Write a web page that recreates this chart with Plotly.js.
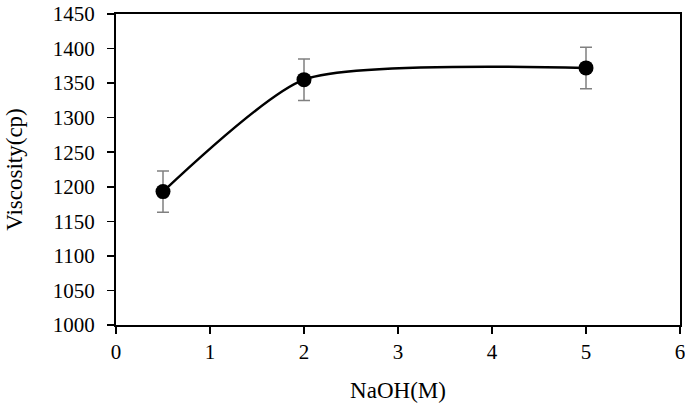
<!DOCTYPE html>
<html>
<head>
<meta charset="utf-8">
<script src="https://cdn.plot.ly/plotly-3.0.1.min.js"></script>
<style>html,body{margin:0;padding:0;background:#fff}#chart{width:685px;height:403px}</style>
</head>
<body>
<div id="chart"></div>
<script>
const naoh = [0.5, 2, 5];
const viscosity = [1193, 1355, 1372];
const errors = [30, 30, 30];
const xTicks = [0, 1, 2, 3, 4, 5, 6];
const yTicks = [1000, 1050, 1100, 1150, 1200, 1250, 1300, 1350, 1400, 1450];

const family = '"Liberation Serif", "Times New Roman", serif';
const tickFont = {family: family, color: '#000', size: 21};
const titleFont = {family: family, color: '#000', size: 23};

const trace = {
  x: naoh, y: viscosity,
  type: 'scatter', mode: 'lines+markers',
  line: {shape: 'spline', smoothing: 0.6, color: '#000', width: 2.5},
  marker: {size: 15, color: '#000'},
  error_y: {type: 'data', array: errors, visible: true, color: '#808080', thickness: 1.5, width: 6},
  showlegend: false
};

const layout = {
  width: 685, height: 403,
  margin: {l: 116, r: 5, t: 14, b: 78},
  paper_bgcolor: '#fff', plot_bgcolor: '#fff',
  font: tickFont,
  xaxis: {
    range: [0, 6], tickvals: xTicks, ticktext: xTicks.map(String),
    showgrid: false, zeroline: false, automargin: false,
    showline: true, linecolor: '#000', linewidth: 2, mirror: true,
    ticks: 'outside', ticklen: 7, tickwidth: 1.5, tickcolor: '#000',
    tickfont: tickFont, ticklabeloverflow: 'allow',
    title: {text: 'NaOH(M)', font: titleFont, standoff: 19}
  },
  yaxis: {
    range: [1000, 1450], tickvals: yTicks, ticktext: yTicks.map(String),
    showgrid: false, zeroline: false, automargin: false,
    showline: true, linecolor: '#000', linewidth: 2, mirror: true,
    ticks: 'outside', ticklen: 7, tickwidth: 1.5, tickcolor: '#000',
    tickfont: tickFont, ticklabelstandoff: 8, ticklabeloverflow: 'allow',
    title: {text: 'Viscosity(cp)', font: titleFont, standoff: 24}
  }
};

Plotly.newPlot('chart', [trace], layout, {displayModeBar: false, staticPlot: true});
</script>
</body>
</html>
